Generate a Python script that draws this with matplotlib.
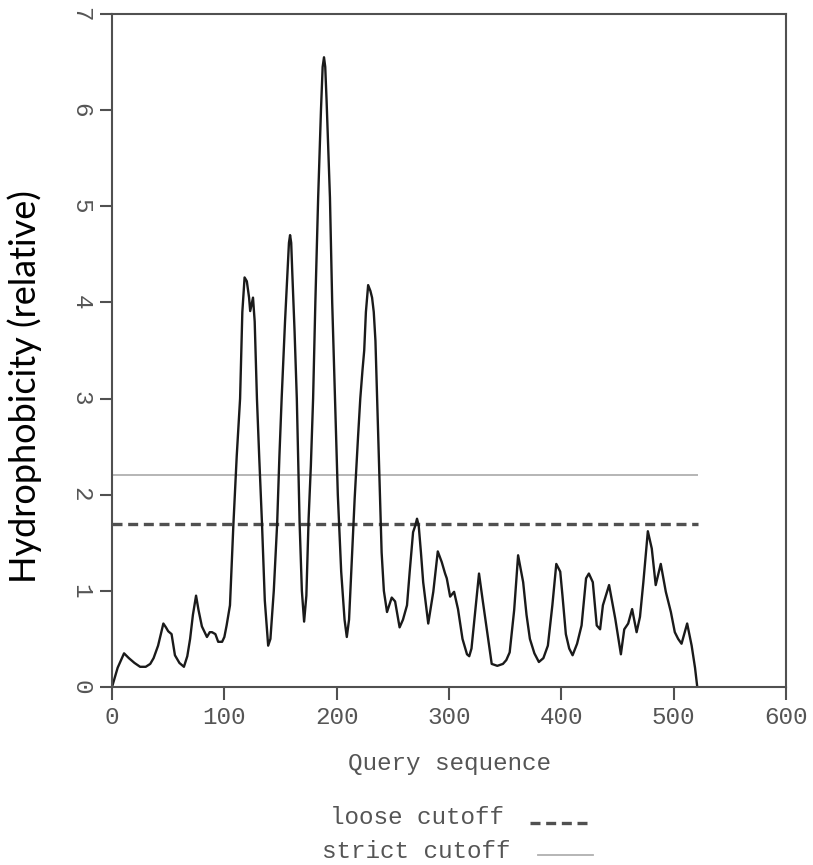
import matplotlib as mpl
mpl.use('Agg')
import matplotlib.pyplot as plt
from matplotlib.lines import Line2D

# residue position along the query and the relative hydrophobicity there
seq_pos = [0, 5, 10.7, 15, 20, 25, 30, 34, 37, 41, 45.7, 48, 50, 53, 56, 60, 64, 67, 69.5, 72,
           74.8, 77, 80, 82, 84.5, 87, 89, 92, 94.5, 98, 100, 102, 105, 108, 111, 114, 116, 118,
           120, 122, 123, 125.5, 127, 129, 131, 133.5, 136, 139, 141, 144, 147, 149, 151, 154,
           156.5, 157.5, 158.5, 159.5, 160.5, 162.5, 164.5, 167, 169, 171, 173, 175, 177, 179,
           181, 183.5, 186, 187.5, 188.7, 189.8, 191, 194, 196, 198.5, 201, 204, 207, 209, 211,
           213, 216, 219, 221, 223, 224.5, 226, 228, 230, 231.5, 233, 234.5, 236, 237.5, 238.6,
           240, 242, 244.8, 249, 252, 256, 259, 262.6, 265, 268, 270, 271.5, 273, 275, 277,
           281.5, 286, 290, 293.5, 296.5, 298, 301, 304.5, 308, 312, 316, 318, 320, 323, 326.7,
           330, 334, 338, 343, 348, 351, 354, 358, 361.5, 366, 369, 372, 376, 380, 384, 388,
           392, 395.5, 399, 401, 404, 407, 410, 414, 418, 422, 424.5, 428, 431.5, 434.5, 437,
           442.5, 445, 448, 453, 456, 459.5, 463, 467, 470, 473, 477, 480.5, 484, 488.5, 493,
           497.5, 501, 504, 507, 512, 516, 519, 521]
hydro = [0.0, 0.2, 0.35, 0.30, 0.25, 0.21, 0.21, 0.24, 0.30, 0.43, 0.66, 0.62, 0.58, 0.55, 0.33,
         0.25, 0.21, 0.32, 0.5, 0.75, 0.95, 0.80, 0.63, 0.58, 0.52, 0.57, 0.57, 0.55, 0.47, 0.47,
         0.52, 0.64, 0.85, 1.68, 2.4, 3.0, 3.9, 4.26, 4.22, 4.05, 3.91, 4.05, 3.8, 3.0, 2.4, 1.7,
         0.9, 0.43, 0.5, 1.0, 1.7, 2.4, 3.0, 3.8, 4.4, 4.62, 4.70, 4.62, 4.3, 3.7, 3.0, 1.7, 1.0,
         0.68, 0.95, 1.75, 2.3, 3.0, 4.0, 5.09, 6.0, 6.45, 6.55, 6.45, 6.1, 5.09, 4.0, 3.0, 2.0,
         1.2, 0.7, 0.52, 0.7, 1.2, 1.96, 2.6, 3.0, 3.3, 3.5, 3.9, 4.18, 4.12, 4.05, 3.9, 3.6,
         3.0, 2.4, 1.96, 1.4, 1.0, 0.78, 0.93, 0.89, 0.62, 0.7, 0.85, 1.2, 1.61, 1.68, 1.75,
         1.68, 1.4, 1.09, 0.66, 0.99, 1.41, 1.30, 1.18, 1.13, 0.94, 0.99, 0.81, 0.5, 0.34, 0.32,
         0.4, 0.75, 1.18, 0.9, 0.57, 0.24, 0.22, 0.24, 0.28, 0.36, 0.8, 1.37, 1.09, 0.75, 0.50,
         0.35, 0.26, 0.3, 0.43, 0.85, 1.28, 1.2, 0.95, 0.55, 0.4, 0.33, 0.45, 0.64, 1.13, 1.18,
         1.09, 0.64, 0.60, 0.85, 1.06, 0.9, 0.71, 0.34, 0.60, 0.66, 0.81, 0.57, 0.73, 1.09, 1.62,
         1.44, 1.06, 1.28, 0.99, 0.78, 0.57, 0.5, 0.45, 0.66, 0.43, 0.2, 0.0]

loose_cutoff = 1.7
strict_cutoff = 2.2
seq_len = 522

x_ticks = [0, 100, 200, 300, 400, 500, 600]
y_ticks = [0, 1, 2, 3, 4, 5, 6, 7]

mono = 'Liberation Mono'
fs = 17.5
grey_txt = '#555555'
spine_col = '#505050'

fig = plt.figure(figsize=(8.13, 8.65), dpi=100)
ax = fig.add_axes([0.1378, 0.2058, 0.8290, 0.7780])

ax.hlines(strict_cutoff, 0, seq_len, color='#b0b0b0', lw=1.3)
ax.hlines(loose_cutoff, 0, seq_len, color='#505050', lw=2.4, linestyles=(0, (3.0, 1.7)))
ax.plot(seq_pos, hydro, color='#1a1a1a', lw=1.7)

ax.set_xlim(0, 600)
ax.set_ylim(0, 7)
ax.set_xticks(x_ticks)
ax.set_yticks(y_ticks)
ax.set_xticklabels([str(v) for v in x_ticks], fontfamily=mono, fontsize=fs, color=grey_txt)
ax.set_yticklabels([str(v) for v in y_ticks], fontfamily=mono, fontsize=fs, color=grey_txt,
                   rotation=-90, va='center')
ax.tick_params(axis='both', direction='out', length=9, width=1.5, color=spine_col, pad=5)
for s in ax.spines.values():
    s.set_color(spine_col)
    s.set_linewidth(1.5)

ax.set_xlabel('Query sequence', fontfamily=mono, fontsize=fs, color=grey_txt, labelpad=16)
ax.set_ylabel('Hydrophobicity (relative)', fontfamily='Lato', fontsize=26, color='black')
ax.yaxis.set_label_coords(-0.1039, 0.446)

# legend under the axes: label text then a line sample
fig.text(504 / 813, 1 - 818 / 865, 'loose cutoff', fontfamily=mono, fontsize=fs,
         color=grey_txt, ha='right', va='center')
fig.text(510 / 813, 1 - 852 / 865, 'strict cutoff', fontfamily=mono, fontsize=fs,
         color=grey_txt, ha='right', va='center')
fig.add_artist(Line2D([530 / 813, 587 / 813], [1 - 823 / 865, 1 - 823 / 865],
                      color='#505050', lw=2.4, linestyle=(0, (3.0, 1.7))))
fig.add_artist(Line2D([538 / 813, 593 / 813], [1 - 855 / 865, 1 - 855 / 865],
                      color='#b0b0b0', lw=1.3))

plt.savefig('out.png', dpi=100)
